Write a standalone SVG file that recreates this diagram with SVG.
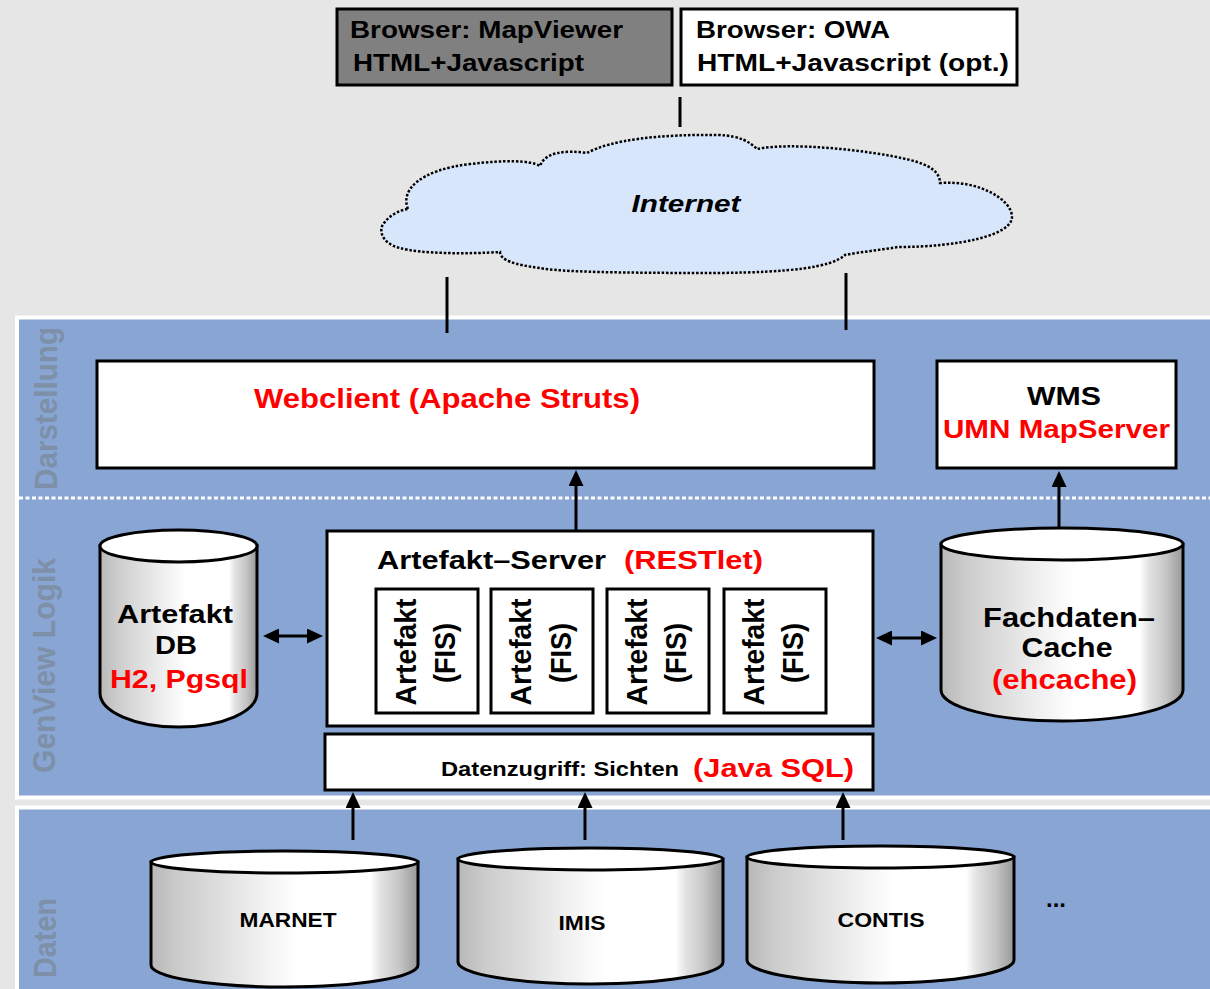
<svg xmlns="http://www.w3.org/2000/svg" width="1210" height="989" viewBox="0 0 1210 989">
<style>
text{font-family:"Liberation Sans",Arial,Helvetica,sans-serif;font-weight:bold;fill:#000}
.red{fill:#ff0000}
.side{fill:#7d90a8}
.box{fill:#fff;stroke:#000;stroke-width:3}
.cylb{fill:url(#cyl);stroke:#000;stroke-width:3}
.cylt{fill:#fff;stroke:#000;stroke-width:3}
.ln{stroke:#000;stroke-width:3;fill:none}
.arr{stroke:#000;stroke-width:3;fill:none;marker-end:url(#ah)}
.darr{stroke:#000;stroke-width:3;fill:none;marker-end:url(#ah);marker-start:url(#ah)}
</style>
<defs>
<linearGradient id="cyl" x1="0" y1="0" x2="1" y2="0">
<stop offset="0" stop-color="#b8b8b8"/>
<stop offset="0.1" stop-color="#cbcbcb"/>
<stop offset="0.4" stop-color="#efefef"/>
<stop offset="0.55" stop-color="#ffffff"/>
<stop offset="0.82" stop-color="#ffffff"/>
<stop offset="0.86" stop-color="#e2e2e2"/>
<stop offset="0.93" stop-color="#c6c6c6"/>
<stop offset="1" stop-color="#989898"/>
</linearGradient>
<marker id="ah" viewBox="0 0 16 15" refX="8" refY="7.5" markerWidth="16" markerHeight="15" markerUnits="userSpaceOnUse" orient="auto-start-reverse">
<path d="M0,0 L16,7.5 L0,15 Z" fill="#000"/>
</marker>
</defs>
<rect x="0" y="0" width="1210" height="989" fill="#e6e6e6"/>

<g id="panels">
<rect x="17" y="317.5" width="1200" height="480" fill="#88a5d4" stroke="#fff" stroke-width="4"/>
<rect x="17" y="807.5" width="1200" height="190" fill="#88a5d4" stroke="#fff" stroke-width="4"/>
<line x1="19" y1="498" x2="1210" y2="498" stroke="#fff" stroke-width="3" stroke-dasharray="4 2.5"/>
<text class="side" transform="translate(57,408.5) rotate(-90)" text-anchor="middle" font-size="32" textLength="163" lengthAdjust="spacingAndGlyphs">Darstellung</text>
<text class="side" transform="translate(55,665.5) rotate(-90)" text-anchor="middle" font-size="32" textLength="215" lengthAdjust="spacingAndGlyphs">GenView Logik</text>
<text class="side" transform="translate(56,938) rotate(-90)" text-anchor="middle" font-size="32" textLength="80" lengthAdjust="spacingAndGlyphs">Daten</text>
</g>

<g id="browser-mapviewer">
<rect x="337" y="9" width="335" height="76" fill="#808080" stroke="#000" stroke-width="3"/>
<text x="350" y="38" font-size="23" textLength="273" lengthAdjust="spacingAndGlyphs">Browser: MapViewer</text>
<text x="353" y="71" font-size="23" textLength="231" lengthAdjust="spacingAndGlyphs">HTML+Javascript</text>
</g>

<g id="browser-owa">
<rect x="681" y="9" width="336" height="76" class="box"/>
<text x="696" y="38" font-size="23" textLength="194" lengthAdjust="spacingAndGlyphs">Browser: OWA</text>
<text x="697" y="71" font-size="23" textLength="312" lengthAdjust="spacingAndGlyphs">HTML+Javascript (opt.)</text>
</g>

<g id="internet">
<path d="M408,209 C400,190 420,170 470,164 C505,160 530,160 540,166 C545,152 565,150 587,153 C610,140 660,134 720,135 C740,136 750,142 757,149 C790,142 870,150 910,160 C930,165 940,172 940,183 C980,180 1012,200 1012,217 C1012,235 960,247 898,247 C880,250 860,252 845,255 C830,268 790,272 720,273 C620,273 560,272 540,268 C515,265 500,260 500,252 C470,254 420,254 400,248 C380,243 378,228 385,222 C390,215 400,210 408,209 Z" fill="#d8e6fc" stroke="#000" stroke-width="2.5" stroke-dasharray="2.5 1.8"/>
<text x="686" y="212" font-size="24" font-style="italic" text-anchor="middle" textLength="109" lengthAdjust="spacingAndGlyphs">Internet</text>
</g>

<g id="webclient">
<rect x="97" y="361" width="777" height="107" class="box"/>
<text class="red" x="254" y="408" font-size="27" textLength="386" lengthAdjust="spacingAndGlyphs">Webclient (Apache Struts)</text>
</g>

<g id="wms">
<rect x="937" y="361" width="239" height="107" class="box"/>
<text x="1064" y="405" font-size="25" text-anchor="middle" textLength="74" lengthAdjust="spacingAndGlyphs">WMS</text>
<text class="red" x="943" y="438" font-size="25" textLength="227" lengthAdjust="spacingAndGlyphs">UMN MapServer</text>
</g>

<g id="artefakt-db">
<path class="cylb" d="M100,546 L100,693 A78.5,34 0 0 0 257,693 L257,546 Z"/>
<ellipse class="cylt" cx="178.5" cy="546" rx="78.5" ry="16"/>
<text x="175" y="623" font-size="25" text-anchor="middle" textLength="116" lengthAdjust="spacingAndGlyphs">Artefakt</text>
<text x="176" y="654" font-size="25" text-anchor="middle" textLength="42" lengthAdjust="spacingAndGlyphs">DB</text>
<text class="red" x="179" y="688" font-size="26" text-anchor="middle" textLength="138" lengthAdjust="spacingAndGlyphs">H2, Pgsql</text>
</g>

<g id="artefakt-server">
<rect x="327" y="531" width="546" height="195" class="box"/>
<text x="377" y="569" font-size="25" textLength="229" lengthAdjust="spacingAndGlyphs">Artefakt–Server</text>
<text class="red" x="624" y="569" font-size="25" textLength="139" lengthAdjust="spacingAndGlyphs">(RESTlet)</text>
</g>

<g id="artefakt-1">
<rect x="376" y="589" width="102" height="124" class="box"/>
<text transform="translate(416,652) rotate(-90)" text-anchor="middle" font-size="29" textLength="107" lengthAdjust="spacingAndGlyphs">Artefakt</text>
<text transform="translate(455,653) rotate(-90)" text-anchor="middle" font-size="29" textLength="60" lengthAdjust="spacingAndGlyphs">(FIS)</text>
</g>
<g id="artefakt-2">
<rect x="491" y="589" width="102" height="124" class="box"/>
<text transform="translate(531,652) rotate(-90)" text-anchor="middle" font-size="29" textLength="107" lengthAdjust="spacingAndGlyphs">Artefakt</text>
<text transform="translate(571,653) rotate(-90)" text-anchor="middle" font-size="29" textLength="60" lengthAdjust="spacingAndGlyphs">(FIS)</text>
</g>
<g id="artefakt-3">
<rect x="607" y="589" width="102" height="124" class="box"/>
<text transform="translate(647,652) rotate(-90)" text-anchor="middle" font-size="29" textLength="107" lengthAdjust="spacingAndGlyphs">Artefakt</text>
<text transform="translate(686,653) rotate(-90)" text-anchor="middle" font-size="29" textLength="60" lengthAdjust="spacingAndGlyphs">(FIS)</text>
</g>
<g id="artefakt-4">
<rect x="724" y="589" width="102" height="124" class="box"/>
<text transform="translate(764,652) rotate(-90)" text-anchor="middle" font-size="29" textLength="107" lengthAdjust="spacingAndGlyphs">Artefakt</text>
<text transform="translate(803,653) rotate(-90)" text-anchor="middle" font-size="29" textLength="60" lengthAdjust="spacingAndGlyphs">(FIS)</text>
</g>

<g id="datenzugriff">
<rect x="325" y="734" width="548" height="56" class="box"/>
<text x="441" y="776" font-size="21" textLength="238" lengthAdjust="spacingAndGlyphs">Datenzugriff: Sichten</text>
<text class="red" x="693" y="777" font-size="26" textLength="161" lengthAdjust="spacingAndGlyphs">(Java SQL)</text>
</g>

<g id="fachdaten-cache">
<path class="cylb" d="M941,544 L941,690 A121,31 0 0 0 1183,690 L1183,544 Z"/>
<ellipse class="cylt" cx="1062" cy="544" rx="121" ry="16"/>
<text x="983" y="627" font-size="27" textLength="172" lengthAdjust="spacingAndGlyphs">Fachdaten–</text>
<text x="1067" y="657" font-size="27" text-anchor="middle" textLength="91" lengthAdjust="spacingAndGlyphs">Cache</text>
<text class="red" x="992" y="689" font-size="27" textLength="145" lengthAdjust="spacingAndGlyphs">(ehcache)</text>
</g>

<g id="marnet">
<path class="cylb" d="M151,862 L151,965 A133.5,22 0 0 0 418,965 L418,862 Z"/>
<ellipse class="cylt" cx="284.5" cy="862" rx="133.5" ry="11"/>
<text x="288" y="927" font-size="21" text-anchor="middle" textLength="97" lengthAdjust="spacingAndGlyphs">MARNET</text>
</g>

<g id="imis">
<path class="cylb" d="M458,859 L458,962 A132.5,22 0 0 0 723,962 L723,859 Z"/>
<ellipse class="cylt" cx="590.5" cy="859" rx="132.5" ry="11"/>
<text x="582" y="930" font-size="21" text-anchor="middle" textLength="47" lengthAdjust="spacingAndGlyphs">IMIS</text>
</g>

<g id="contis">
<path class="cylb" d="M747,857 L747,960 A133.5,23 0 0 0 1014,960 L1014,857 Z"/>
<ellipse class="cylt" cx="880.5" cy="857" rx="133.5" ry="11"/>
<text x="881" y="927" font-size="21" text-anchor="middle" textLength="87" lengthAdjust="spacingAndGlyphs">CONTIS</text>
</g>

<g id="more">
<text x="1046" y="907" font-size="24" textLength="20" lengthAdjust="spacingAndGlyphs">...</text>
</g>

<g id="connectors">
<line class="ln" x1="680" y1="97" x2="680" y2="127"/>
<line class="ln" x1="447" y1="277" x2="447" y2="333"/>
<line class="ln" x1="846" y1="273" x2="846" y2="330"/>
<line class="arr" x1="576" y1="530" x2="576" y2="478"/>
<line class="arr" x1="1059" y1="528" x2="1059" y2="479"/>
<line class="darr" x1="271" y1="636" x2="315" y2="636"/>
<line class="darr" x1="884" y1="638" x2="929" y2="638"/>
<line class="arr" x1="353" y1="840" x2="353" y2="800"/>
<line class="arr" x1="585" y1="840" x2="585" y2="800"/>
<line class="arr" x1="843" y1="840" x2="843" y2="800"/>
</g>
</svg>
